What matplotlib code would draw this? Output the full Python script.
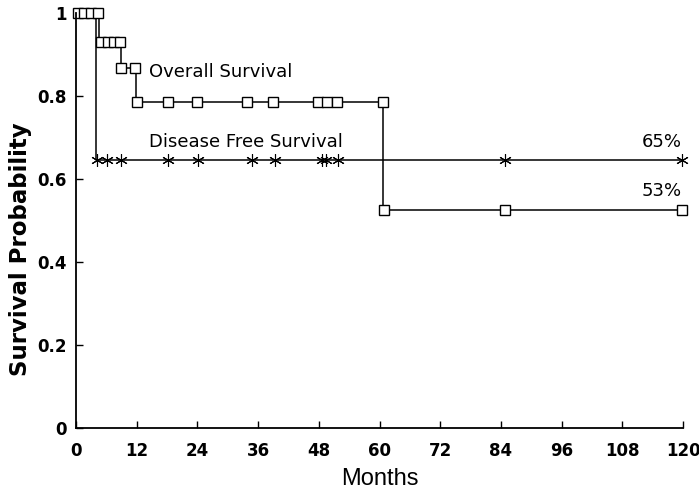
import matplotlib
matplotlib.use("Agg")
import matplotlib.pyplot as plt

plt.rcParams['font.family'] = ['Liberation Sans', 'DejaVu Sans']

# overall survival step curve (months, probability)
os_times = [0, 4.6, 8.8, 11.9, 60.7, 120]
os_surv = [1.0, 0.93, 0.867, 0.786, 0.525, 0.525]
# censor marks (squares) for overall survival
os_cens_t = [0.3, 1.6, 3.0, 4.4, 5.0, 6.3, 7.6, 8.6, 8.9, 11.6,
             12.0, 18.2, 24.0, 33.8, 38.9, 47.8, 49.6, 51.6, 60.7,
             60.9, 84.8, 119.8]
os_cens_s = [1.0, 1.0, 1.0, 1.0, 0.93, 0.93, 0.93, 0.93, 0.867, 0.867,
             0.786, 0.786, 0.786, 0.786, 0.786, 0.786, 0.786, 0.786, 0.786,
             0.525, 0.525, 0.525]

# disease free survival
dfs_times = [0, 3.9, 120]
dfs_surv = [1.0, 0.645, 0.645]
dfs_cens_t = [4.2, 6.1, 8.9, 18.2, 24.1, 34.8, 39.3, 48.6, 49.4, 51.8,
              84.8, 119.8]
dfs_cens_s = [0.645] * len(dfs_cens_t)

xticks = list(range(0, 121, 12))
yticks = [0, 0.2, 0.4, 0.6, 0.8, 1.0]
ylabels = ['0', '0.2', '0.4', '0.6', '0.8', '1']

fig = plt.figure(figsize=(6.99, 4.95), dpi=100)
ax = fig.add_axes([76 / 699, 1 - 428 / 495, (683 - 76) / 699, (428 - 13) / 495])

ax.plot(os_times, os_surv, drawstyle='steps-post', color='black', lw=1.1)
ax.plot(dfs_times, dfs_surv, drawstyle='steps-post', color='black', lw=1.1)
ax.plot(os_cens_t, os_cens_s, ls='none', marker='s', ms=7.5, mfc='white',
        mec='black', mew=1.0, clip_on=False)
ax.plot(dfs_cens_t, dfs_cens_s, ls='none', marker=(6, 2, 0), ms=9,
        color='black', mew=0.8, clip_on=False)

tfont = dict(family='DejaVu Sans', fontsize=13, va='center')
ax.text(14.4, 0.857, 'Overall Survival', ha='left', **tfont)
ax.text(14.4, 0.688, 'Disease Free Survival', ha='left', **tfont)
ax.text(119.8, 0.688, '65%', ha='right', **tfont)
ax.text(119.8, 0.572, '53%', ha='right', **tfont)

ax.set_xlim(0, 120)
ax.set_ylim(0, 1)
ax.set_xticks(xticks)
ax.set_yticks(yticks)
ax.set_yticklabels(ylabels)
ax.tick_params(direction='in', length=5, width=1, labelsize=12)
ax.tick_params(axis='x', pad=10)
ax.tick_params(axis='y', pad=7)
for lab in ax.get_xticklabels() + ax.get_yticklabels():
    lab.set_family('DejaVu Sans')
    lab.set_fontweight('bold')
for s in ['top', 'right']:
    ax.spines[s].set_visible(False)
for s in ['left', 'bottom']:
    ax.spines[s].set_linewidth(1.3)

ax.set_xlabel('Months', fontsize=17, labelpad=6)
ax.set_ylabel('Survival Probability', family='DejaVu Sans', fontsize=16.5,
              fontweight='bold')
ax.yaxis.set_label_coords(-0.072, 0.43)

fig.savefig('out.png', dpi=100)
